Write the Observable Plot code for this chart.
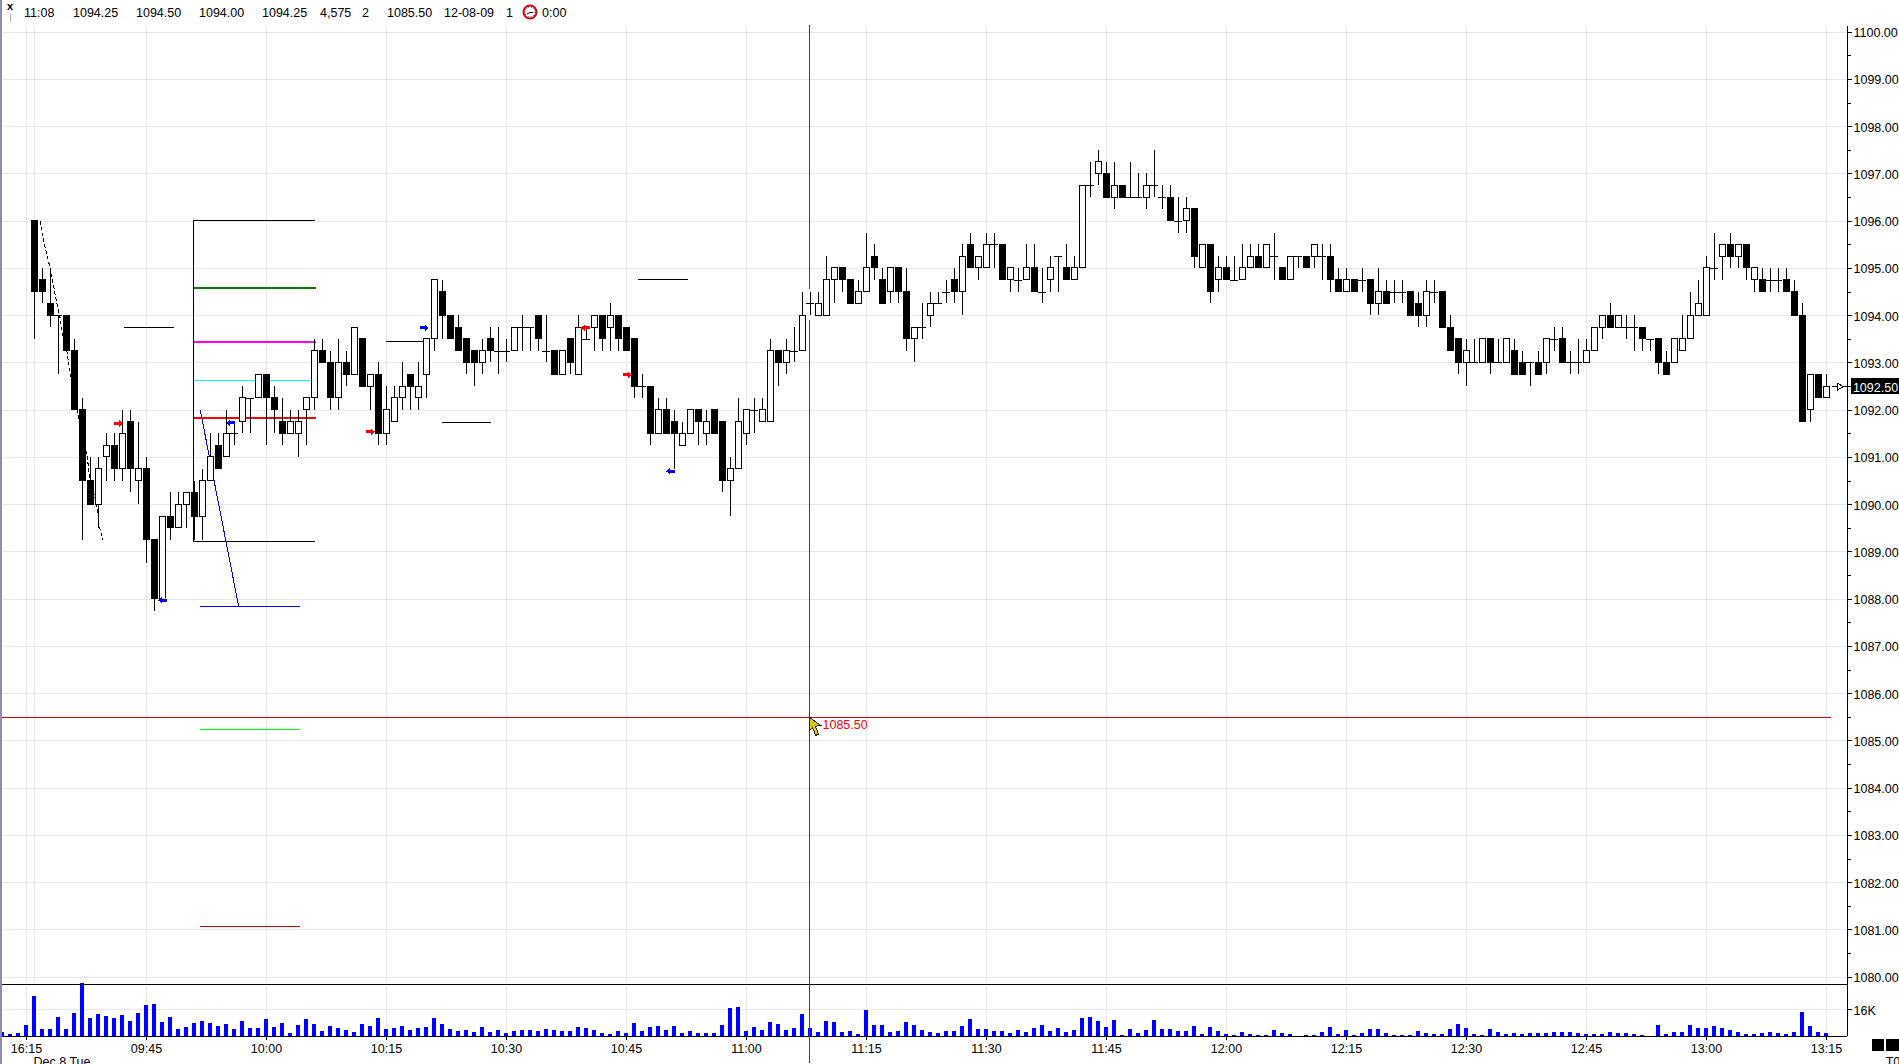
<!DOCTYPE html>
<html><head><meta charset="utf-8">
<script src="https://cdn.jsdelivr.net/npm/d3@7"></script>
<script src="https://cdn.jsdelivr.net/npm/@observablehq/plot@0.6"></script>
<style>
html,body{margin:0;padding:0;background:#fff;width:1899px;height:1064px;overflow:hidden}
#wrap{position:relative;width:1899px;height:1064px;overflow:hidden;font:12.5px "Liberation Sans",Arial,sans-serif;color:#000}
#wrap > svg{display:block;position:absolute;left:0}
.tb{position:absolute;top:6px;white-space:pre;line-height:14px}
.sq{position:absolute;background:#000;top:1039px;height:12px}
</style></head><body><div id="wrap"></div>
<script>
// prices are given above this base
const priceBase = 1000;
// [open, high, low, close] per bar; first candle is bar 4
const barsOpening = [[96,96,93.5,94.5],[94.75,95,94.25,94.5],[94.25,95,93.75,94],[94,94,92.75,94],[94,94,93.25,93.25],[93.25,93.5,92,92],[92,92.25,89.25,90.5],[90.5,91,90,90],[90,91,89.5,90.75],[91,91.5,90.5,91.25],[91.25,91.5,90.5,90.75],[90.75,92,90.5,91.5],[91.75,92,90.25,90.75],[90.5,91.75,90,90.75]];
const bars0945 = [[90.75,91,88.75,89.25],[89.25,89.25,87.75,88],[88,89.75,88,89.75],[89.75,90.25,89.25,89.5],[89.5,90.25,89.5,90],[90,90.25,89.5,90.25],[90.25,90.5,89.25,89.75],[89.75,90.75,89.25,90.5],[90.5,91.5,90.5,91],[91.25,91.5,90.75,90.75],[91,92,91,91.5],[91.5,91.75,91.25,91.5],[91.75,92.5,91.5,92.25],[92.25,92.25,91.5,92.25],[92.25,92.75,92.25,92.75]];
const bars1000 = [[92.75,92.75,91.25,92.25],[92.25,92.5,91.5,92],[91.75,92.25,91.25,91.5],[91.5,92,91.5,91.75],[91.5,92,91,91.75],[92,92.25,91.25,92.25],[92.25,93.5,92,93.25],[93.25,93.5,93,93],[93,93.25,92,92.25],[92.25,93.5,92,93],[93,93.25,92.5,92.75],[92.75,93.75,92.75,93.75],[93.5,93.5,92.5,92.5],[92.5,92.75,92,92.75],[92.75,93,91.25,91.5]];
const bars1015 = [[91.5,92.5,91.25,92],[91.75,92.5,91.75,92.25],[92.25,93,92,92.5],[92.75,92.75,92,92.5],[92.25,93,92,92.5],[92.75,93.5,92.25,93.5],[93.5,94.75,93.25,94.75],[94.5,94.75,93.5,94],[94,94,93.5,93.5],[93.75,94,93.25,93.25],[93.5,93.5,92.75,93],[93.25,93.25,92.5,93],[93,93.5,92.75,93.25],[93.5,93.75,93,93.25],[93.25,93.75,92.75,93.25]];
const bars1030 = [[93.25,93.5,93,93.25],[93.25,93.75,93.25,93.75],[93.75,94,93.25,93.75],[93.75,93.75,93.25,93.75],[94,94,93.25,93.5],[93.25,94,93,93.25],[93.25,93.25,92.75,92.75],[92.75,93.25,92.75,93.25],[93.5,93.5,92.75,93],[92.75,94,92.75,93.75],[93.5,93.75,93.5,93.5],[93.75,94,93.25,94],[94,94,93.25,93.5],[93.75,94.25,93.25,94],[94,94,93.25,93.5]];
const bars1045 = [[93.75,93.75,93.25,93.25],[93.5,93.5,92.25,92.5],[92.5,92.75,92.25,92.5],[92.5,92.5,91.25,91.5],[91.5,92.25,91.5,92],[92,92.25,91.5,91.5],[91.75,92,90.75,91.5],[91.25,91.75,91.25,91.5],[91.5,92,91.5,92],[92,92,91.25,91.75],[91.5,92,91.25,91.75],[92,92,91.5,91.5],[91.75,91.75,90.25,90.5],[90.5,91,89.75,90.75],[90.75,92.25,90.75,91.75]];
const bars1100 = [[91.5,92,91.25,92],[92,92.25,91.5,92],[91.75,92.25,91.75,92],[91.75,93.5,91.75,93.25],[93.25,93.25,92.5,93],[93,93.5,92.75,93.25],[93.25,93.75,93,93.25],[93.25,94.5,93.25,94],[94.25,94.5,94,94.25],[94,94.5,94,94.25],[94,95.25,94,94.75],[94.75,95,94.25,95],[95,95,94.5,94.75],[94.75,94.75,94.25,94.25],[94.25,94.75,94.25,94.5]];
const bars1115 = [[94.5,95.75,94.5,95],[95.25,95.5,94.75,95],[94.75,95,94.25,94.25],[94.5,95,94.25,95],[95,95,94.25,94.5],[94.5,95,93.25,93.5],[93.5,93.75,93,93.75],[93.75,94.25,93.5,93.75],[94,94.5,93.75,94.25],[94.25,94.5,94.25,94.25],[94.5,94.75,94.25,94.5],[94.75,95,94.25,94.5],[94.5,95.5,94,95.25],[95.5,95.75,95,95],[95,95.25,94.75,95.25]];
const bars1130 = [[95,95.75,95,95.5],[95.5,95.75,95,95.5],[95.5,95.5,94.75,94.75],[94.75,95,94.5,95],[94.75,95,94.5,94.75],[94.75,95.5,94.75,95],[95,95.5,94.5,94.5],[94.5,95,94.25,94.5],[94.75,95.25,94.5,95],[95.25,95.25,94.5,95.25],[95,95.5,94.75,94.75],[94.75,95.25,94.75,95],[95,96.75,95,96.75],[96.75,97.25,96.5,96.75],[97,97.5,96.75,97.25]];
const bars1145 = [[97,97.25,96.5,96.5],[96.5,97.25,96.25,96.75],[96.75,96.75,96.5,96.5],[96.5,97.25,96.5,96.5],[96.5,97,96.5,96.5],[96.5,97,96.25,96.75],[96.75,97.5,96.5,96.75],[96.5,96.75,96.25,96.5],[96.5,96.75,96,96],[96,96.5,95.75,96],[96,96.5,95.75,96.25],[96.25,96.25,95,95.25],[95,95.5,95,95.5],[95.5,95.5,94.25,94.5],[94.75,95.25,94.5,95]];
const bars1200 = [[95,95.25,94.75,94.75],[94.75,95.25,94.75,94.75],[94.75,95.5,94.75,95],[95,95.5,95,95.25],[95.25,95.5,95,95],[95,95.5,95,95.5],[95.25,95.75,94.75,95.25],[95,95,94.75,94.75],[94.75,95.25,94.75,95.25],[95.25,95.25,95,95.25],[95.25,95.25,95,95],[95.25,95.5,95,95.5],[95.25,95.5,94.75,95.25],[95.25,95.5,94.5,94.75],[94.75,95,94.5,94.5]];
const bars1215 = [[94.5,95,94.5,94.75],[94.75,94.75,94.5,94.5],[94.75,95,94.5,94.75],[94.75,94.75,94,94.25],[94.25,95,94,94.5],[94.5,94.75,94.25,94.25],[94.5,94.75,94.25,94.5],[94.5,94.75,94.25,94.5],[94.5,94.5,94,94],[94.25,94.5,93.75,94],[94,94.75,93.75,94.5],[94.5,94.75,94.25,94.5],[94.5,94.5,93.75,93.75],[93.75,94,93.25,93.25],[93.5,93.5,92.75,93]];
const bars1230 = [[93,93.5,92.5,93.25],[93,93.5,93,93],[93,93.5,93,93.5],[93.5,93.5,92.75,93],[93,93.5,93,93],[93,93.5,93,93.5],[93.25,93.5,92.75,92.75],[93,93.25,92.75,92.75],[93,93,92.5,93],[93,93.25,92.75,92.75],[93,93.5,92.75,93.5],[93.5,93.75,93.25,93.5],[93.5,93.75,93,93],[93,93.25,92.75,93],[93,93.5,92.75,93]];
const bars1245 = [[93,93.5,93,93.25],[93.25,93.75,93.25,93.75],[93.75,94,93.5,94],[94,94.25,93.75,93.75],[93.75,94,93.75,94],[93.75,94,93.5,93.75],[93.75,94,93.25,93.75],[93.75,93.75,93.25,93.5],[93.5,93.5,93.25,93.5],[93.5,93.5,92.75,93],[93,93.25,92.75,92.75],[93,93.5,93,93.5],[93.25,94,93.25,93.5],[93.5,94.5,93.5,94],[94,94.75,94,94.25]];
const bars1300 = [[94,95.25,94,95],[95,95.75,94.75,95],[95.25,95.5,94.75,95.5],[95.5,95.75,95,95.25],[95.25,95.5,95,95.5],[95.5,95.5,94.75,95],[94.75,95,94.5,95],[94.75,95,94.5,94.5],[94.75,95,94.5,94.75],[94.75,95,94.5,94.75],[94.75,95,94.5,94.5],[94.5,94.75,94,94],[94,94.25,91.75,91.75],[92,92.75,91.75,92.75],[92.75,92.75,92.25,92.25],[92.25,92.75,92.25,92.5]];

// volume in thousands, bar 0 onward
const volume = [2.6,1.4,2,6.7,23.9,4.3,4.3,11.5,4.3,13.8,31.2,10.9,13.2,12,10.9,12.6,9.1,13.8,18.6,19.2,8.5,11.5,4.3,5.5,7.9,9.1,7.9,6.1,7.3,4.3,9.1,4.9,4.9,10.3,5.5,7.9,2,6.7,10.3,7.3,3.2,6.1,4.9,3.8,2.6,7.3,6.1,10.9,4.3,4.9,6.1,3.8,4.9,5.5,10.9,7.3,4.3,3.2,3.8,2.6,5.5,2.6,3.8,2,3.2,3.8,3.8,3.2,4.3,3.8,3.2,3.2,5.5,4.9,3.8,2,1.4,3.2,2,7.9,
3.2,5.5,6.1,3.8,6.1,2,3.2,2,2,2,6.7,16.8,17.4,3.2,5.5,3.8,8.5,7.3,3.8,4.9,13.2,4.9,2.6,9.1,8.5,2.6,3.2,1.4,15.6,6.7,6.7,2.6,3.2,8.5,6.7,3.8,2.6,2,3.2,3.2,6.1,10.3,4.3,4.3,3.2,3.2,2,3.8,2.6,4.9,6.7,3.2,4.9,2.6,3.8,10.9,11.5,9.1,5.5,9.7,0.6,4.3,2,3.8,9.7,4.3,4.3,3.2,3.2,6.1,1.4,5.5,3.2,1.4,0.6,2.6,1.4,0.6,0.6,3.8,
2,1.4,0,0.6,0.6,2.6,5.5,1.4,3.8,0.6,2,4.3,4.3,2,0.6,0.6,0.6,3.2,2,1.4,1.4,4.3,7.3,4.9,1.4,0.6,4.3,2.6,1.4,2,1.4,2,2,2,2.6,2.6,2.6,2,1.4,1.4,1.4,2.6,2,2,1.4,0.6,0,6.7,1.4,2.6,2.6,6.7,4.9,4.9,6.1,4.9,3.8,2.6,1.4,1.4,2,2.6,2,1.4,2.6,14.4,6.1,2.6,2];

const tickBars = [3,18,33,48,63,78,93,108,123,138,153,168,183,198,213,228];
const tickLabels = ["16:15","09:45","10:00","10:15","10:30","10:45","11:00","11:15","11:30","11:45","12:00","12:15","12:30","12:45","13:00","13:15"];
const dateSeparatorBar = [4];
const priceTicks = d3.range(1080,1101);
const priceHalfTicks = d3.range(1080.5,1100,1);

// drawn levels: [bar start, bar end, price, colour, width]
const levels = [
 [23.875,39.125,1096.02,"#000",1],
 [23.875,39.31,1094.58,"#008000",2],
 [23.875,39.31,1093.44,"#ff00ff",2],
 [23.875,39,1092.62,"#00ffff",1],
 [23.875,39.31,1091.84,"#ff0000",2],
 [23.875,39.125,1089.22,"#000",1],
 [24.69,37.19,1087.84,"#0000ff",1],
 [24.69,37.19,1085.25,"#00ff00",1],
 [24.69,37.19,1081.08,"#e00000",1],
 [15.31,21.56,1093.76,"#000",1],
 [47.94,52.8,1093.46,"#000",1],
 [54.94,61.16,1091.75,"#000",1],
 [79.44,85.69,1094.76,"#000",1]
];
const levelStem = [{x:23.875,y1:1096.02,y2:1089.22}];
const blueSlope = [[24.72,1092.0],[29.53,1087.84]];
const dashedX = [4.69,5.31,5.94,6.81,7.19,7.47,8.03,8.53,9.47,10.6,10.85,11.56,11.9,12.06,12.53];
const dashedY = [1096,1095.45,1095.02,1094.25,1093.96,1093.62,1093.26,1092.73,1091.88,1091.02,1090.61,1090.15,1089.87,1089.56,1089.26];
// signal arrows: [bar, price, colour]
const arrowsRight = [[14.56,1091.72,"#ff0000"],[46,1091.54,"#ff0000"],[52.69,1093.74,"#0000ff"],[78.1,1092.75,"#ff0000"]];
const arrowsLeft = [[20,1087.98,"#0000ff"],[28.56,1091.73,"#0000ff"],[72.85,1093.74,"#ff0000"],[83.5,1090.71,"#0000ff"]];
// small yellow flecks beside signal arrows: [bar start, bar end, price]
const signalFlecks = [[19.7,20.55,1088.02]];

const crossBar = 100.875, crossPrice = 1085.5, crossLabel = "1085.50", crossEndBar = 228.6;
const crossSegments = [[1100.14,1094.55],[1093.9,1079.8]];
const lastPrice = 1092.5;

const toolbar = [[24,"11:08"],[73,"1094.25"],[136,"1094.50"],[199,"1094.00"],[262,"1094.25"],[320,"4,575"],[362,"2"],[387,"1085.50"],[444,"12-08-09"],[506,"1"],[542,"0:00"]];

const rows = [barsOpening,bars0945,bars1000,bars1015,bars1030,bars1045,bars1100,bars1115,bars1130,bars1145,bars1200,bars1215,bars1230,bars1245,bars1300].flat();
const candles = rows.map((r,k)=>({i:k+4,o:r[0]+priceBase,h:r[1]+priceBase,l:r[2]+priceBase,c:r[3]+priceBase}));
const bodies = candles.filter(d=>d.o!==d.c);
const dojis = candles.filter(d=>d.o===d.c);
const vols = volume.map((v,i)=>({i,v}));
const dashed = dashedX.map((x,k)=>({x,y:dashedY[k]}));
const axisBar = 230.6;
const xScale = {domain:[0,230],range:[2,1842],axis:null};
const chartStyle = {fontFamily:"'Liberation Sans',Arial,sans-serif",fontSize:"12.5px",shapeRendering:"crispEdges",background:"transparent",overflow:"visible"};

const arrowR = {draw(c){c.moveTo(-4.5,-1.5);c.lineTo(0.5,-1.5);c.lineTo(0.5,-3.5);c.lineTo(4.5,0);c.lineTo(0.5,3.5);c.lineTo(0.5,1.5);c.lineTo(-4.5,1.5);c.closePath();}};
const arrowL = {draw(c){c.moveTo(4.5,-1.5);c.lineTo(-0.5,-1.5);c.lineTo(-0.5,-3.5);c.lineTo(-4.5,0);c.lineTo(-0.5,3.5);c.lineTo(-0.5,1.5);c.lineTo(4.5,1.5);c.closePath();}};
const cursorShape = {draw(c){c.moveTo(0,0);c.lineTo(11,8);c.lineTo(6,9);c.lineTo(9,17);c.lineTo(6,18);c.lineTo(3,10);c.lineTo(0,13);c.closePath();}};

const priceChart = Plot.plot({
  width:1899,height:984,marginTop:26,marginRight:52,marginBottom:0,marginLeft:0,
  x:{...xScale},
  y:{domain:[1080,1100],range:[976.7,31.7]},
  style:chartStyle,
  marks:[
    Plot.gridY(priceTicks,{stroke:"#e8e8e8",strokeOpacity:1}),
    Plot.ruleX([...tickBars,...dateSeparatorBar],{stroke:"#e8e8e8"}),
    Plot.ruleX([axisBar],{stroke:"#000"}),
    Plot.axisY({anchor:"right",ticks:priceTicks,tickFormat:()=>"",tickSize:4,label:null}),
    Plot.axisY({anchor:"right",ticks:priceTicks,tickFormat:d=>d.toFixed(2),tickSize:0,tickPadding:6,dy:1,label:null}),
    Plot.axisY({anchor:"right",ticks:priceHalfTicks,tickFormat:()=>"",tickSize:3,label:null}),
    Plot.ruleY(levels,{y:d=>d[2],x1:d=>d[0],x2:d=>d[1],stroke:d=>d[3],strokeWidth:d=>d[4]}),
    Plot.ruleX(levelStem,{x:"x",y1:"y1",y2:"y2",stroke:"#000"}),
    Plot.line(blueSlope,{x:d=>d[0],y:d=>d[1],stroke:"#0000ff",strokeWidth:1}),
    Plot.line(dashed,{x:"x",y:"y",stroke:"#000",strokeWidth:1,strokeDasharray:"3 3",curve:"linear"}),
    Plot.ruleX(crossSegments,{x:()=>crossBar,y1:d=>d[0],y2:d=>d[1],stroke:"#e00000"}),
    Plot.ruleY([crossPrice],{stroke:"#e00000",x1:0,x2:crossEndBar}),
    Plot.ruleX(candles,{x:"i",y1:"l",y2:"h",stroke:"#000"}),
    Plot.rect(bodies,{x1:d=>d.i-.375,x2:d=>d.i+.375,y1:"o",y2:"c",fill:d=>d.c>d.o?"#fff":"#000",stroke:"#000",strokeWidth:1}),
    Plot.ruleY(dojis,{y:"c",x1:d=>d.i-.44,x2:d=>d.i+.44,stroke:"#000"}),
    Plot.ruleY(signalFlecks,{y:d=>d[2],x1:d=>d[0],x2:d=>d[1],stroke:"#ffd800"}),
    Plot.dot(arrowsRight,{x:d=>d[0],y:d=>d[1],fill:d=>d[2],stroke:"none",symbol:arrowR,r:4}),
    Plot.dot(arrowsLeft,{x:d=>d[0],y:d=>d[1],fill:d=>d[2],stroke:"none",symbol:arrowL,r:4}),
    Plot.dot([crossPrice],{x:()=>crossBar,y:d=>d,fill:"#d8cc00",stroke:"#222",strokeWidth:1,symbol:cursorShape,r:4}),
    Plot.text([crossLabel],{x:()=>crossBar,y:()=>crossPrice,dx:13,dy:7.5,text:d=>d,fill:"#ff0000",textAnchor:"start"}),
    Plot.ruleY([lastPrice],{x1:()=>228.75,x2:()=>axisBar,stroke:"#000"}),
    Plot.dot([lastPrice],{x:()=>229.6,y:d=>d,symbol:"triangle",rotate:90,r:2.6,fill:"#fff",stroke:"#000",strokeWidth:1}),
    Plot.rect([lastPrice],{x1:()=>231.1,x2:()=>237.2,y1:d=>d+.165,y2:d=>d-.165,fill:"#000"}),
    Plot.text([lastPrice],{x:()=>231.3,y:d=>d,dy:1,text:d=>d.toFixed(2),fill:"#fff",textAnchor:"start"})
  ]
});
priceChart.style.top="0px";

const volumeChart = Plot.plot({
  width:1899,height:81,marginTop:0,marginRight:52,marginBottom:28,marginLeft:0,
  x:{...xScale},
  y:{domain:[0,16],range:[53,26]},
  style:chartStyle,
  marks:[
    Plot.gridY([16],{stroke:"#e8e8e8",strokeOpacity:1}),
    Plot.ruleX(tickBars,{stroke:"#e8e8e8"}),
    Plot.rect(vols,{x1:d=>d.i-.3,x2:d=>d.i+.3,y1:0,y2:"v",fill:"#0000ff"}),
    Plot.ruleY([0],{stroke:"#000",x1:0,x2:axisBar}),
    Plot.ruleY([31],{stroke:"#000",x1:0,x2:axisBar}),
    Plot.ruleX([axisBar],{stroke:"#000"}),
    Plot.ruleX([crossBar],{stroke:"#e00000",y1:31.4,y2:-16}),
    Plot.axisX({anchor:"bottom",ticks:tickBars,tickFormat:d=>tickLabels[tickBars.indexOf(d)],tickSize:4,tickPadding:4,label:null}),
    Plot.axisY({anchor:"right",ticks:[16],tickFormat:()=>"",tickSize:4,label:null}),
    Plot.axisY({anchor:"right",ticks:[16],tickFormat:d=>d+"K",tickSize:0,tickPadding:6,dy:1,label:null}),
    Plot.text(["Dec 8 Tue"],{x:()=>4,y:()=>0,dy:25,text:d=>d,textAnchor:"start",dx:-1}),
    Plot.text(["T0"],{x:()=>235.4,y:()=>0,dy:25,text:d=>d,textAnchor:"start"})
  ]
});
volumeChart.style.top="983px";

const wrap = document.getElementById("wrap");
wrap.append(priceChart,volumeChart);
for (const [x,t] of toolbar){const s=document.createElement("span");s.className="tb";s.style.left=x+"px";s.textContent=t;wrap.append(s);}
const extra = document.createElement("div");
extra.innerHTML=`
<div style="position:absolute;left:0;top:0;width:2px;height:1064px;background:#8c8cb4"></div>
<div style="position:absolute;left:7px;top:0;font:bold 11px 'Liberation Sans';line-height:12px">x</div>
<div style="position:absolute;left:10px;top:14px;width:1px;height:8px;background:#aaa"></div>
<svg style="position:absolute;left:522px;top:4px" width="16" height="16" viewBox="0 0 16 16"><circle cx="8" cy="8" r="6.5" fill="#fff" stroke="#e00000" stroke-width="2"/><circle cx="8" cy="8" r="5" fill="none" stroke="#000080" stroke-width="1" stroke-dasharray="1 2"/><path d="M5 10L8 8.5H11" stroke="#000" fill="none"/></svg>
<div class="sq" style="left:1872px;width:12px"></div><div class="sq" style="left:1886px;width:13px"></div>`;
wrap.append(extra);
</script></body></html>
